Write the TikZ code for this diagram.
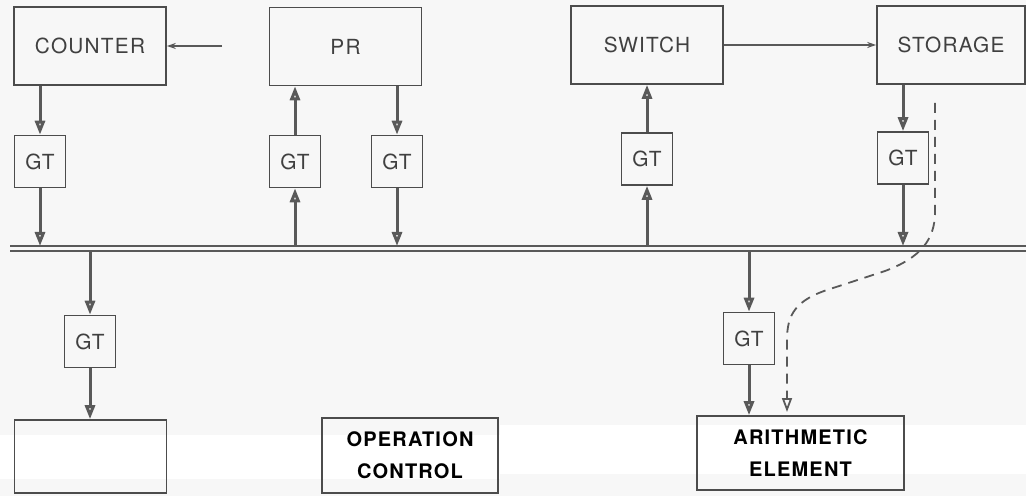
\documentclass[tikz,border=0pt]{standalone}
\usepackage{fontspec}
\setmainfont{TeX Gyre Heros}[LetterSpace=6]
\usetikzlibrary{arrows.meta}
\begin{document}
\begin{tikzpicture}[x=0.5pt,y=-0.5pt]
\tikzstyle{every node} = [draw=black!70, line width=0.8, inner sep=0, font=\fontsize{10.4}{12}\selectfont, text=black!75]
\tikzstyle{unit} = [minimum width=76pt, minimum height=39pt]
\tikzstyle{gate} = [minimum width=25.5pt, minimum height=26pt]
\tikzstyle{lower} = [align=center, font=\fontsize{10}{16}\selectfont\bfseries, text=black]
\tikzstyle{edge} = [draw=black!65, line width=1.5, -{Triangle[open,length=7pt,width=5pt]}]
\tikzstyle{wire} = [draw=black!65, line width=0.6, -{Stealth[length=4.5pt,width=3pt]}]
\tikzstyle{busline} = [draw=black!65, line width=0.9]
\useasboundingbox (0,0) rectangle (1026,496);
\fill[black!3] (0,0) rectangle (1026,496);
\fill[white] (0,435) rectangle (500,479);
\fill[white] (500,425) rectangle (1026,474);
\node[unit] (counter) at (90,46) {COUNTER};
\node[unit] (pr) at (345.5,46.5) {PR};
\node[unit] (switch) at (647,45) {SWITCH};
\node[unit, minimum width=74pt] (storage) at (951,45) {STORAGE};
\node[gate] (gt1) at (40,161.5) {GT};
\node[gate] (gt2) at (295,161.5) {GT};
\node[gate] (gt3) at (397,161.5) {GT};
\node[gate] (gt4) at (647,159) {GT};
\node[gate] (gt5) at (903,158) {GT};
\node[gate] (gt6) at (90,341.5) {GT};
\node[gate] (gt7) at (749,338.5) {GT};
\node[unit, minimum height=36.5pt] (ctr) at (90.5,456.5) {};
\node[lower, minimum width=88pt, minimum height=37.5pt] (opc) at (410,455.5) {OPERATION\\CONTROL};
\node[lower, minimum width=103.5pt, minimum height=37pt] (arith) at (800.5,453) {ARITHMETIC\\ELEMENT};
\coordinate (bl) at (10,246);
\coordinate (br) at (1026,246);
\coordinate (bl2) at (10,251);
\coordinate (br2) at (1026,251);
\coordinate (cin) at (222,46);
\coordinate (ds) at (935,103);
\coordinate (de) at (787,412);
\draw[busline] (bl) -- (br);
\draw[busline] (bl2) -- (br2);
\draw[wire] (cin) -- (counter.east);
\draw[wire] (switch.east) -- (storage.west);
\draw[edge] (counter.south -| gt1) -- (gt1.north);
\draw[edge] (gt1.south) -- (gt1 |- bl);
\draw[edge] (gt2.north) -- (gt2 |- pr.south);
\draw[edge] (gt2 |- bl) -- (gt2.south);
\draw[edge] (gt3 |- pr.south) -- (gt3.north);
\draw[edge] (gt3.south) -- (gt3 |- bl);
\draw[edge] (gt4.north) -- (switch.south);
\draw[edge] (gt4 |- bl) -- (gt4.south);
\draw[edge] (gt5 |- storage.south) -- (gt5.north);
\draw[edge] (gt5.south) -- (gt5 |- bl);
\draw[edge] (gt6 |- bl2) -- (gt6.north);
\draw[edge] (gt6.south) -- (ctr.north -| gt6);
\draw[edge] (gt7 |- bl2) -- (gt7.north);
\draw[edge] (gt7.south) -- (arith.north -| gt7);
\draw[edge, line width=0.9, dash pattern=on 5pt off 3.5pt] (ds) -- (935,212) .. controls (935,240) and (920,258) .. (885,271) -- (830,289) .. controls (795,300) and (787,315) .. (787,340) -- (de);
\end{tikzpicture}
\end{document}
